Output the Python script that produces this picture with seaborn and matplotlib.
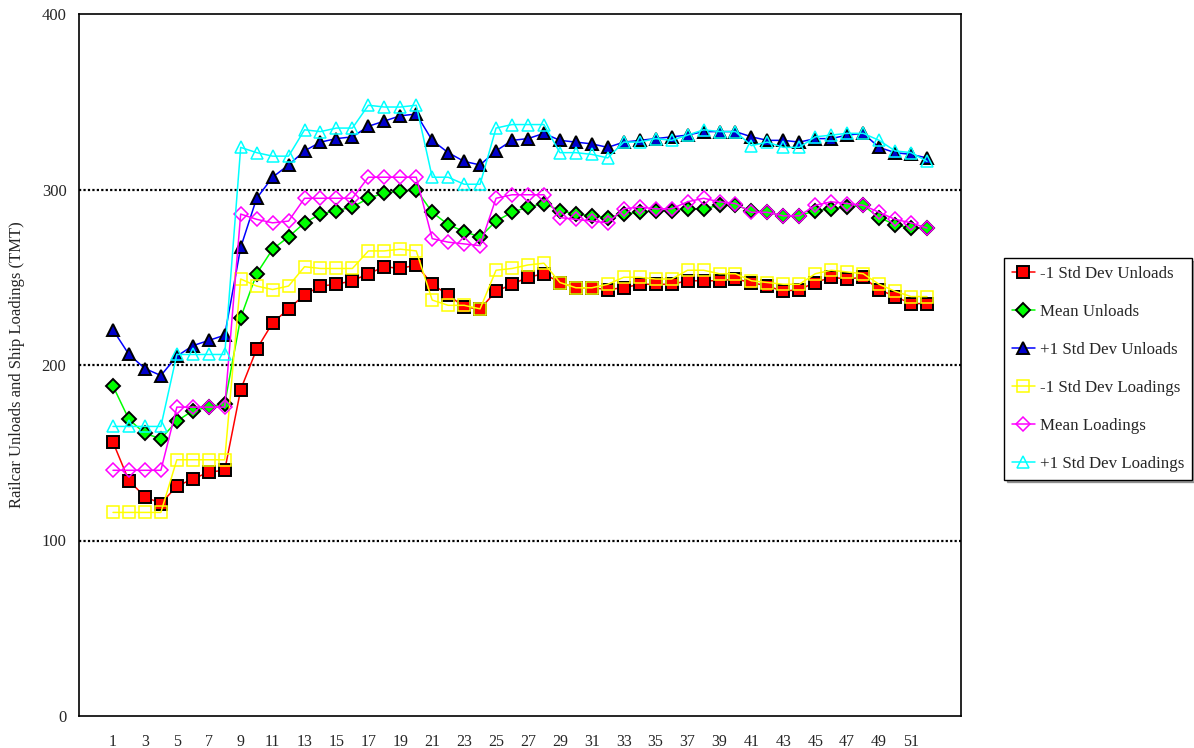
"""
Railcar unloads vs ship loadings: mean and +/-1 std dev bands by week.
"""
import matplotlib
matplotlib.use("Agg")
import matplotlib.pyplot as plt
import seaborn as sns

weeks = list(range(1, 53))

minus_sd_unloads = [156, 134, 125, 121, 131, 135, 139, 140, 186, 209, 224, 232, 240, 245, 246, 248,
                    252, 256, 255, 257, 246, 240, 233, 232, 242, 246, 250, 252, 247, 244, 244, 243,
                    244, 246, 246, 246, 248, 248, 248, 249, 247, 245, 242, 243, 247, 250, 249, 250,
                    243, 239, 235, 235]
mean_unloads = [188, 169, 161, 158, 168, 174, 176, 178, 227, 252, 266, 273, 281, 286, 288, 290,
                295, 298, 299, 300, 287, 280, 276, 273, 282, 287, 290, 292, 288, 286, 285, 284,
                286, 287, 288, 288, 289, 289, 291, 291, 288, 287, 285, 285, 288, 289, 290, 291,
                284, 280, 278, 278]
plus_sd_unloads = [220, 206, 198, 194, 205, 211, 214, 217, 267, 295, 307, 314, 322, 327, 329, 330,
                   336, 339, 342, 343, 328, 321, 316, 314, 322, 328, 329, 332, 328, 327, 326, 324,
                   327, 328, 329, 330, 331, 333, 333, 333, 330, 328, 328, 327, 329, 329, 331, 332,
                   324, 321, 320, 318]
minus_sd_loadings = [116, 116, 116, 116, 146, 146, 146, 146, 249, 245, 243, 245, 256, 255, 255, 255,
                     265, 265, 266, 265, 237, 234, 234, 232, 254, 255, 257, 258, 247, 244, 244, 246,
                     250, 250, 249, 249, 254, 254, 252, 252, 248, 247, 246, 246, 252, 254, 253, 252,
                     246, 242, 239, 239]
mean_loadings = [140, 140, 140, 140, 176, 176, 176, 176, 286, 283, 281, 282, 295, 295, 295, 295,
                 307, 307, 307, 307, 272, 270, 269, 268, 295, 297, 297, 297, 284, 283, 282, 281,
                 289, 290, 289, 289, 293, 295, 293, 292, 287, 287, 285, 285, 291, 293, 292, 291,
                 287, 283, 281, 278]
plus_sd_loadings = [165, 165, 165, 165, 206, 206, 206, 206, 324, 321, 319, 319, 334, 333, 335, 335,
                    348, 347, 347, 348, 307, 307, 303, 303, 335, 337, 337, 337, 321, 321, 320, 318,
                    327, 327, 329, 328, 331, 334, 333, 333, 325, 327, 324, 324, 330, 331, 332, 332,
                    328, 322, 321, 316]

series_names = ["-1 Std Dev Unloads", "Mean Unloads", "+1 Std Dev Unloads",
                "-1 Std Dev Loadings", "Mean Loadings", "+1 Std Dev Loadings"]
series_values = [minus_sd_unloads, mean_unloads, plus_sd_unloads,
                 minus_sd_loadings, mean_loadings, plus_sd_loadings]

# line color, marker, face, edge
styles = [
    ("#FF0000", "s", "#FF0000", "black"),
    ("#00FF00", "D", "#00FF00", "black"),
    ("#0000FF", "^", "#0000CC", "black"),
    ("#FFFF00", "s", "none", "#FFFF00"),
    ("#FF00FF", "D", "none", "#FF00FF"),
    ("#00FFFF", "^", "none", "#00FFFF"),
]
sizes = {"s": 8.5, "D": 7, "^": 9}

sns.set_style("white")
plt.rcParams["font.family"] = ["Liberation Serif", "DejaVu Serif"]

fig = plt.figure(figsize=(11.94, 7.48), dpi=100)
ax = fig.add_axes([79 / 1194, 32 / 748, 882 / 1194, 702 / 748])

for name, vals, (col, mk, face, edge) in zip(series_names, series_values, styles):
    sns.lineplot(x=weeks, y=vals, ax=ax, color=col, linewidth=1.1, marker=mk,
                 markersize=sizes[mk], markerfacecolor=face, markeredgecolor=edge,
                 markeredgewidth=1.4 if face != "none" else 1.1, label=name)

ax.set_xlim(-1.13, 54.13)
ax.set_ylim(0, 400)
ax.set_yticks([0, 100, 200, 300, 400])
ax.set_xticks(weeks)
ax.set_xticklabels([str(w) if w % 2 == 1 else "" for w in weeks])
for y in [100, 200, 300]:
    ax.axhline(y, color="black", linestyle=(0, (1, 1)), linewidth=1.6, zorder=0)

ax.tick_params(axis="x", direction="in", length=9, width=1, pad=13, labelsize=11.5)
ax.tick_params(axis="y", direction="in", length=12, width=1.5, pad=9, labelsize=12)
for sp in ax.spines.values():
    sp.set_color("black")
    sp.set_linewidth(1.2)

ax.set_xlabel("")
ax.set_ylabel("Railcar Unloads and Ship Loadings (TMT)", fontsize=12, labelpad=12)

leg = ax.legend(loc="center left", bbox_to_anchor=(1004 / 1194, 379 / 748),
                bbox_transform=fig.transFigure, frameon=True, fancybox=False, shadow=True,
                fontsize=12.2, handlelength=1.4, labelspacing=1.3, borderpad=0.45,
                handletextpad=0.3, borderaxespad=0)
leg.get_frame().set_edgecolor("black")
leg.get_frame().set_linewidth(1.0)

fig.savefig("out.png", dpi=100)
